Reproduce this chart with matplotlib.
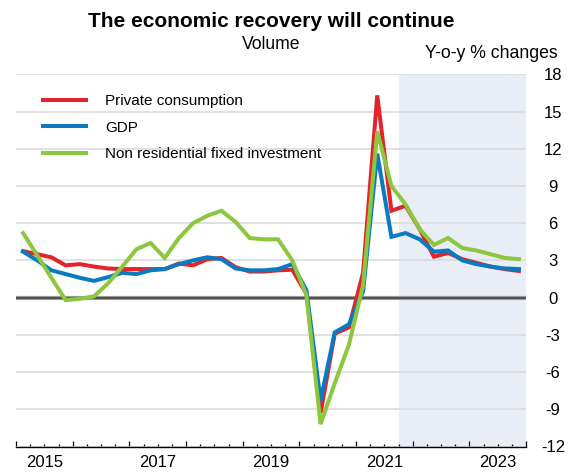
import numpy as np
import matplotlib
matplotlib.use("Agg")
import matplotlib.pyplot as plt

plt.rcParams["font.family"] = ["Liberation Sans", "DejaVu Sans"]
plt.rcParams["axes.unicode_minus"] = False

# ---------------------------------------------------------------------------
# Dados (variacao anual %, trimestral 2015T1 - 2023T4)
# ---------------------------------------------------------------------------
trimestres = 2015 + (np.arange(36) + 0.5) / 4

consumo_privado = [3.75, 3.5, 3.25, 2.6, 2.7, 2.5, 2.35, 2.3, 2.3, 2.3, 2.3, 2.75,
                   2.6, 3.1, 3.2, 2.45, 2.1, 2.1, 2.2, 2.25, 0.3, -9.3, -2.9, -2.4,
                   2.0, 16.3, 7.0, 7.4, 5.5, 3.3, 3.6, 3.1, 2.8, 2.5, 2.3, 2.15]
pib = [3.7, 3.0, 2.2, 1.9, 1.6, 1.35, 1.65, 2.0, 1.9, 2.2, 2.3, 2.7,
       3.0, 3.25, 3.1, 2.35, 2.2, 2.2, 2.3, 2.7, 0.6, -8.3, -2.8, -2.15,
       0.5, 11.6, 4.9, 5.2, 4.7, 3.7, 3.8, 3.0, 2.7, 2.5, 2.35, 2.3]
investimento = [5.2, 3.4, 1.6, -0.2, -0.1, 0.1, 1.15, 2.5, 3.9, 4.4, 3.2, 4.8,
                6.0, 6.6, 7.0, 6.1, 4.8, 4.7, 4.7, 3.0, 0.2, -10.2, -6.9, -3.8,
                1.0, 13.4, 9.0, 7.5, 5.5, 4.25, 4.8, 4.0, 3.8, 3.5, 3.2, 3.1]

series = [
    ("Private consumption", consumo_privado, "#E3242B"),
    ("GDP", pib, "#0B7BC1"),
    ("Non residential fixed investment", investimento, "#8DC63F"),
]

inicio_projecao = 2021.75
anos_rotulo = [2015, 2017, 2019, 2021, 2023]
y_ticks = list(range(-12, 19, 3))

# ---------------------------------------------------------------------------
# Figura
# ---------------------------------------------------------------------------
fig = plt.figure(figsize=(5.69, 4.72), dpi=100)
ax = fig.add_axes([16 / 569, 25.5 / 472, 510 / 569, 372.2 / 472])

ax.axvspan(inicio_projecao, 2024, color="#E9EDF6", zorder=0, lw=0)
ax.set_axisbelow(True)
ax.grid(axis="y", color="#D9D9D9", lw=1.1)
ax.axhline(0, color="#9A9A9A", lw=3.0, zorder=1)
ax.axhline(0, color="#444444", lw=1.2, zorder=1)

for nome, valores, cor in series:
    ax.plot(trimestres, valores, color=cor, lw=2.9, label=nome, zorder=3,
            solid_joinstyle="miter")

ax.set_xlim(2015, 2024)
ax.set_ylim(-12, 18)

# eixo x: ticks anuais longos, trimestrais curtos
ax.set_xticks(np.arange(2015, 2025), labels=[])
ax.set_xticks([2015 + q / 4 for q in range(37) if q % 4 != 0], minor=True)
ax.tick_params(axis="x", which="major", direction="in", length=4.5, width=0.9, color="black")
ax.tick_params(axis="x", which="minor", direction="in", length=2.5, width=0.9, color="black")

sec = ax.secondary_xaxis("bottom")
sec.set_xticks([a + 0.5 for a in anos_rotulo], labels=[str(a) for a in anos_rotulo])
sec.tick_params(length=0, pad=6, labelsize=12)
sec.spines["bottom"].set_visible(False)

# eixo y a direita
ax.yaxis.tick_right()
ax.set_yticks(y_ticks)
ax.tick_params(axis="y", length=0, pad=19.5, labelsize=12)
for lbl in ax.get_yticklabels():
    lbl.set_horizontalalignment("center")

for lado in ["top", "left", "right"]:
    ax.spines[lado].set_visible(False)
ax.spines["bottom"].set_color("black")
ax.spines["bottom"].set_linewidth(1.0)
ax.spines["bottom"].set_zorder(4)

leg = ax.legend(loc="upper left", bbox_to_anchor=(0.053, 0.947), frameon=False,
                fontsize=11, handlelength=2.82, handletextpad=1.24,
                labelspacing=0.82, borderpad=0, borderaxespad=0)

fig.text(0.477, 1 - 26.7 / 472, "The economic recovery will continue",
         ha="center", va="baseline", fontsize=15, fontweight="bold")
fig.text(0.4763, 1 - 49.3 / 472, "Volume", ha="center", va="baseline", fontsize=12.7)
fig.text(558 / 569, 1 - 57.5 / 472, "Y-o-y % changes", ha="right", va="baseline", fontsize=12.7)

fig.savefig("out.png", dpi=100)
